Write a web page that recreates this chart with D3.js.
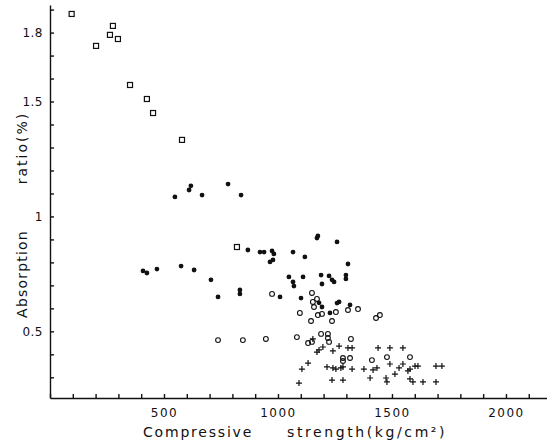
<!DOCTYPE html>
<html>
<head>
<meta charset="utf-8">
<script src="https://cdn.jsdelivr.net/npm/d3@7"></script>
<style>
  body { margin: 0; background: #fff; }
  text { font-family: "DejaVu Sans", sans-serif; fill: #111; }
</style>
</head>
<body>
<div id="chart"></div>
<script>
// Data: [compressive strength kg/cm2, absorption ratio %]
const squares = [
  [95, 1.881], [202, 1.742], [263, 1.790], [276, 1.829], [298, 1.772],
  [351, 1.572], [425, 1.511], [452, 1.450], [579, 1.333], [820, 0.867]
];
const dots = [
  [548, 1.085], [618, 1.133], [610, 1.115], [667, 1.093], [781, 1.141], [838, 1.093],
  [1175, 0.915], [1171, 0.906], [1259, 0.889], [868, 0.854], [921, 0.845], [939, 0.845],
  [974, 0.850], [982, 0.837], [965, 0.802], [978, 0.811], [1066, 0.845], [1118, 0.824],
  [1307, 0.793], [408, 0.763], [425, 0.754], [469, 0.771], [575, 0.784], [632, 0.767],
  [706, 0.724], [737, 0.650], [833, 0.680], [833, 0.663], [1009, 0.650], [1048, 0.737],
  [1066, 0.715], [1070, 0.697], [1110, 0.737], [1189, 0.745], [1193, 0.706], [1224, 0.741],
  [1237, 0.724], [1246, 0.715], [1298, 0.745], [1298, 0.728], [1101, 0.645], [1193, 0.606],
  [1180, 0.624], [1228, 0.580], [1259, 0.623], [1268, 0.628], [1316, 0.615]
];
const circles = [
  [974, 0.663], [1149, 0.667], [1153, 0.628], [1171, 0.641], [1158, 0.606], [1175, 0.571],
  [1193, 0.576], [1096, 0.580], [1145, 0.545], [1237, 0.545], [1254, 0.584], [1307, 0.593],
  [1351, 0.597], [1430, 0.558], [1447, 0.571], [737, 0.462], [846, 0.462], [947, 0.467],
  [1083, 0.475], [1132, 0.449], [1149, 0.454], [1189, 0.489], [1219, 0.489], [1219, 0.471],
  [1224, 0.454], [1320, 0.467], [1285, 0.384], [1285, 0.371], [1316, 0.384], [1412, 0.375],
  [1478, 0.388], [1579, 0.388]
];
const pluses = [
  [1153, 0.467], [1197, 0.432], [1180, 0.419], [1171, 0.410], [1268, 0.436], [1241, 0.415],
  [1307, 0.428], [1325, 0.428], [1439, 0.428], [1491, 0.428], [1548, 0.428], [1132, 0.362],
  [1105, 0.336], [1215, 0.345], [1241, 0.341], [1254, 0.336], [1276, 0.341], [1285, 0.345],
  [1325, 0.336], [1377, 0.336], [1417, 0.332], [1434, 0.341], [1491, 0.358], [1548, 0.358],
  [1531, 0.341], [1513, 0.314], [1570, 0.328], [1579, 0.336], [1601, 0.349], [1614, 0.349],
  [1693, 0.349], [1719, 0.349], [1092, 0.275], [1237, 0.288], [1285, 0.288], [1404, 0.297],
  [1474, 0.297], [1478, 0.280], [1579, 0.293], [1592, 0.280], [1636, 0.280], [1693, 0.280]
];
const xTicks = d3.range(0, 22).map(d => d * 100);
const xLabels = [500, 1000, 1500, 2000];
const yTicks = d3.range(3, 20).map(d => d / 10);
const yLabels = [0.5, 1, 1.5, 1.8];

const width = 547, height = 446;

const svg = d3.select("#chart")
    .append("svg")
    .attr("width", width)
    .attr("height", height);

// Scales
const x = d3.scaleLinear().domain([0, 2180]).range([50, 547]);
const y = d3.scaleLinear().domain([0.21, 1.92]).range([398, 5]);

// Axes with inward ticks
const xAxis = d3.axisBottom(x)
    .tickValues(xTicks)
    .tickSizeInner(-4)
    .tickSizeOuter(0)
    .tickPadding(10)
    .tickFormat(d => xLabels.includes(d) ? d : "");

const yAxis = d3.axisLeft(y)
    .tickValues(yTicks)
    .tickSizeInner(-4)
    .tickSizeOuter(0)
    .tickPadding(7)
    .tickFormat(d => yLabels.some(v => Math.abs(v - d) < 1e-6) ? d3.format("")(+d.toFixed(1)) : "");

svg.append("g")
    .attr("transform", `translate(0,${y(0.21)})`)
    .call(xAxis)
    .call(g => g.selectAll("text").style("font-size", "12px").style("letter-spacing", "1.5px"))
    .call(g => g.selectAll("path,line").attr("stroke", "#111").attr("stroke-width", 1.4));

svg.append("g")
    .attr("transform", `translate(${x(0)},0)`)
    .call(yAxis)
    .call(g => g.selectAll("text").style("font-size", "12px").style("letter-spacing", "0.5px"))
    .call(g => g.selectAll("path,line").attr("stroke", "#111").attr("stroke-width", 1.4));

// Axis titles
svg.append("text")
    .attr("x", 143).attr("y", 437)
    .style("font-size", "14px").style("letter-spacing", "1.8px")
    .text("Compressive");
svg.append("text")
    .attr("x", 287).attr("y", 437)
    .style("font-size", "14px").style("letter-spacing", "2.6px")
    .text("strength(kg/cm²)");

svg.append("text")
    .attr("transform", "translate(27,274) rotate(-90)")
    .attr("text-anchor", "middle")
    .style("font-size", "14px").style("letter-spacing", "1.2px")
    .text("Absorption");
svg.append("text")
    .attr("transform", "translate(27,148) rotate(-90)")
    .attr("text-anchor", "middle")
    .style("font-size", "14px").style("letter-spacing", "2px")
    .text("ratio(%)");

// Points
svg.append("g").selectAll("rect")
    .data(squares)
    .join("rect")
    .attr("x", d => x(d[0]) - 2.5)
    .attr("y", d => y(d[1]) - 2.5)
    .attr("width", 5)
    .attr("height", 5)
    .attr("fill", "none")
    .attr("stroke", "#111")
    .attr("stroke-width", 1.2);

svg.append("g").selectAll("circle")
    .data(dots)
    .join("circle")
    .attr("cx", d => x(d[0]))
    .attr("cy", d => y(d[1]))
    .attr("r", 2.4)
    .attr("fill", "#111");

svg.append("g").selectAll("circle")
    .data(circles)
    .join("circle")
    .attr("cx", d => x(d[0]))
    .attr("cy", d => y(d[1]))
    .attr("r", 2.4)
    .attr("fill", "none")
    .attr("stroke", "#111")
    .attr("stroke-width", 1.1);

svg.append("g").selectAll("path")
    .data(pluses)
    .join("path")
    .attr("transform", d => `translate(${x(d[0])},${y(d[1])})`)
    .attr("d", "M-3,0H3M0,-3V3")
    .attr("stroke", "#111")
    .attr("stroke-width", 1.2)
    .attr("fill", "none");
</script>
</body>
</html>
